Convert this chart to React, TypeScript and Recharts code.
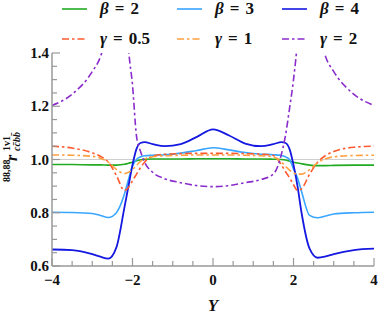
import { LineChart, Line, XAxis, YAxis, ReferenceLine } from 'recharts';

const Y = [-4, -3.5, -3, -2.8, -2.6, -2.4, -2.2, -2.1, -2, -1.9, -1.8, -1.7, -1.5, -1.2, -0.8, -0.4, 0, 0.4, 0.8, 1.2, 1.5, 1.7, 1.8, 1.9, 2, 2.1, 2.2, 2.4, 2.6, 2.8, 3, 3.5, 4];

const beta2 = [0.981, 0.981, 0.980, 0.980, 0.979, 0.979, 0.982, 0.986, 0.990, 0.995, 0.999, 1.001, 1.002, 1.002, 1.002, 1.003, 1.003, 1.003, 1.002, 1.002, 1.001, 1.000, 0.998, 0.994, 0.990, 0.987, 0.984, 0.979, 0.977, 0.977, 0.978, 0.979, 0.979];
const beta3 = [0.802, 0.801, 0.797, 0.790, 0.782, 0.800, 0.870, 0.925, 0.975, 1.000, 1.010, 1.014, 1.016, 1.018, 1.024, 1.034, 1.044, 1.036, 1.026, 1.020, 1.018, 1.015, 1.010, 1.000, 0.965, 0.930, 0.880, 0.790, 0.781, 0.788, 0.795, 0.800, 0.802];
const beta4 = [0.662, 0.660, 0.645, 0.635, 0.628, 0.670, 0.820, 0.900, 0.980, 1.040, 1.062, 1.065, 1.058, 1.050, 1.058, 1.085, 1.113, 1.090, 1.060, 1.050, 1.058, 1.065, 1.062, 1.040, 0.980, 0.900, 0.800, 0.665, 0.631, 0.636, 0.645, 0.660, 0.665];
const gamma05 = [1.050, 1.043, 1.025, 1.012, 0.990, 0.940, 0.883, 0.895, 0.920, 0.945, 0.970, 0.990, 1.012, 1.020, 1.022, 1.023, 1.023, 1.023, 1.022, 1.020, 1.015, 0.980, 0.955, 0.932, 0.905, 0.884, 0.890, 0.945, 0.990, 1.015, 1.030, 1.046, 1.050];
const gamma1 = [1.017, 1.016, 1.012, 1.005, 0.990, 0.963, 0.947, 0.952, 0.962, 0.978, 0.993, 1.002, 1.010, 1.014, 1.016, 1.017, 1.017, 1.017, 1.016, 1.014, 1.010, 0.990, 0.975, 0.960, 0.950, 0.945, 0.945, 0.962, 0.988, 1.003, 1.010, 1.015, 1.016];
const gamma2 = [1.203, 1.245, 1.330, 1.385, 1.500, 1.800, 1.700, 1.420, 1.280, 1.087, 1.030, 0.990, 0.952, 0.928, 0.913, 0.902, 0.898, 0.902, 0.913, 0.925, 0.945, 1.020, 1.090, 1.190, 1.300, 1.450, 1.700, 1.800, 1.500, 1.385, 1.330, 1.245, 1.203];

const xTicks = [-4, -3.5, -3, -2.5, -2, -1.5, -1, -0.5, 0, 0.5, 1, 1.5, 2, 2.5, 3, 3.5, 4];
const xMajor = [-4, -2, 0, 2, 4];
const yTicks = [0.6, 0.65, 0.7, 0.75, 0.8, 0.85, 0.9, 0.95, 1.0, 1.05, 1.1, 1.15, 1.2, 1.25, 1.3, 1.35, 1.4];
const yMajor = [0.6, 0.8, 1.0, 1.2, 1.4];

const data = Y.map((y, i) => ({
  Y: y,
  b2: beta2[i],
  b3: beta3[i],
  b4: beta4[i],
  g05: gamma05[i],
  g1: gamma1[i],
  g2: gamma2[i],
}));

const series = [
  { key: 'b2', name: '2', sym: 'β', color: '#22aa22', dash: undefined, width: 1.6 },
  { key: 'b3', name: '3', sym: 'β', color: '#3aa6ff', dash: undefined, width: 1.6 },
  { key: 'b4', name: '4', sym: 'β', color: '#1418e0', dash: undefined, width: 1.8 },
  { key: 'g05', name: '0.5', sym: 'γ', color: '#ff5a2e', dash: '7 3 2.5 3', width: 1.6 },
  { key: 'g1', name: '1', sym: 'γ', color: '#ffa040', dash: '7 3 2.5 3', width: 1.6 },
  { key: 'g2', name: '2', sym: 'γ', color: '#8a2ccc', dash: '7 3 2.5 3', width: 1.6 },
];

const AXIS = '#999';
const FONT = 'Liberation Serif';
const isMajor = (v: number, list: number[]) => list.some((m) => Math.abs(m - v) < 1e-6);
const fmtX = (v: number) => (v < 0 ? '\u2212' + Math.abs(v) : String(v));

function BottomTick({ x, y, payload }: any) {
  const major = isMajor(payload.value, xMajor);
  return (
    <g>
      <line x1={x} y1={y} x2={x} y2={y - (major ? 8 : 5)} stroke={AXIS} strokeWidth={1.2} />
      {major && (
        <text x={x} y={y + 19} textAnchor="middle" fontFamily={FONT} fontWeight="bold" fontSize={15} fill="#111">
          {fmtX(payload.value)}
        </text>
      )}
    </g>
  );
}

function TopTick({ x, y, payload }: any) {
  const major = isMajor(payload.value, xMajor);
  return <line x1={x} y1={y} x2={x} y2={y + (major ? 8 : 5)} stroke={AXIS} strokeWidth={1.2} />;
}

function LeftTick({ x, y, payload }: any) {
  const major = isMajor(payload.value, yMajor);
  return (
    <g>
      <line x1={x} y1={y} x2={x + (major ? 8 : 5)} y2={y} stroke={AXIS} strokeWidth={1.2} />
      {major && (
        <text x={x - 3} y={y + 5} textAnchor="end" fontFamily={FONT} fontWeight="bold" fontSize={15} fill="#111">
          {payload.value.toFixed(1)}
        </text>
      )}
    </g>
  );
}

function RightTick({ x, y, payload }: any) {
  const major = isMajor(payload.value, yMajor);
  return <line x1={x} y1={y} x2={x - (major ? 8 : 5)} y2={y} stroke={AXIS} strokeWidth={1.2} />;
}

const legendCols = [62, 177, 282];
const legendRows = [9, 39];

export default function App() {
  return (
    <div style={{ position: 'absolute', left: 0, top: 0, width: 381, height: 320, background: '#fff' }}>
      <LineChart width={381} height={320} data={data} margin={{ top: 53, right: 7, bottom: 24, left: 8 }}>
        <XAxis
          dataKey="Y"
          type="number"
          domain={[-4, 4]}
          ticks={xTicks}
          interval={0}
          allowDataOverflow
          height={30}
          tickSize={0}
          tickMargin={0}
          tickLine={false}
          axisLine={{ stroke: AXIS, strokeWidth: 1.5 }}
          tick={<BottomTick />}
        />
        <XAxis
          xAxisId="top"
          orientation="top"
          type="number"
          domain={[-4, 4]}
          ticks={xTicks}
          interval={0}
          height={0}
          tickSize={0}
          tickMargin={0}
          tickLine={false}
          axisLine={{ stroke: AXIS, strokeWidth: 1.5 }}
          tick={<TopTick />}
        />
        <YAxis
          type="number"
          domain={[0.6, 1.4]}
          ticks={yTicks}
          interval={0}
          allowDataOverflow
          width={44}
          tickSize={0}
          tickMargin={0}
          tickLine={false}
          axisLine={{ stroke: AXIS, strokeWidth: 1.5 }}
          tick={<LeftTick />}
        />
        <YAxis
          yAxisId="right"
          orientation="right"
          type="number"
          domain={[0.6, 1.4]}
          ticks={yTicks}
          interval={0}
          width={0}
          tickSize={0}
          tickMargin={0}
          tickLine={false}
          axisLine={{ stroke: AXIS, strokeWidth: 1.5 }}
          tick={<RightTick />}
        />
        <ReferenceLine y={1} stroke="#cfcfcf" strokeWidth={1} />
        {series.map((s) => (
          <Line
            key={s.key}
            dataKey={s.key}
            type="monotone"
            stroke={s.color}
            strokeWidth={s.width}
            strokeDasharray={s.dash}
            dot={false}
            activeDot={false}
            isAnimationActive={false}
          />
        ))}
      </LineChart>

      <svg width={381} height={320} style={{ position: 'absolute', left: 0, top: 0, pointerEvents: 'none' }}>
        {series.map((s, i) => {
          const cx = legendCols[i % 3];
          const cy = legendRows[Math.floor(i / 3)];
          return (
            <g key={s.key}>
              <line x1={cx} y1={cy} x2={cx + 25} y2={cy} stroke={s.color} strokeWidth={1.6} strokeDasharray={s.dash} />
              <text x={cx + 38} y={cy + 5} fontFamily={FONT} fontWeight="bold" fontSize={17} fill="#111">
                <tspan fontStyle="italic">{s.sym}</tspan>
                <tspan dx={6}>=</tspan>
                <tspan dx={6}>{s.name}</tspan>
              </text>
            </g>
          );
        })}
        <text x={213} y={311} textAnchor="middle" fontFamily={FONT} fontWeight="bold" fontStyle="italic" fontSize={17} fill="#111">
          Y
        </text>
        <g transform="translate(14,154) rotate(-90)" fontFamily={FONT} fontWeight="bold" fill="#111">
          <text x={-28} y={-4} fontSize={10}>88,88</text>
          <text x={-7} y={2.5} fontSize={16} fontStyle="italic">r</text>
          <text x={3} y={-4.5} fontSize={10}>1v1</text>
          <text x={3} y={5.5} fontSize={10} fontStyle="italic">{'cc\u0304bb\u0304'}</text>
        </g>
      </svg>
    </div>
  );
}
